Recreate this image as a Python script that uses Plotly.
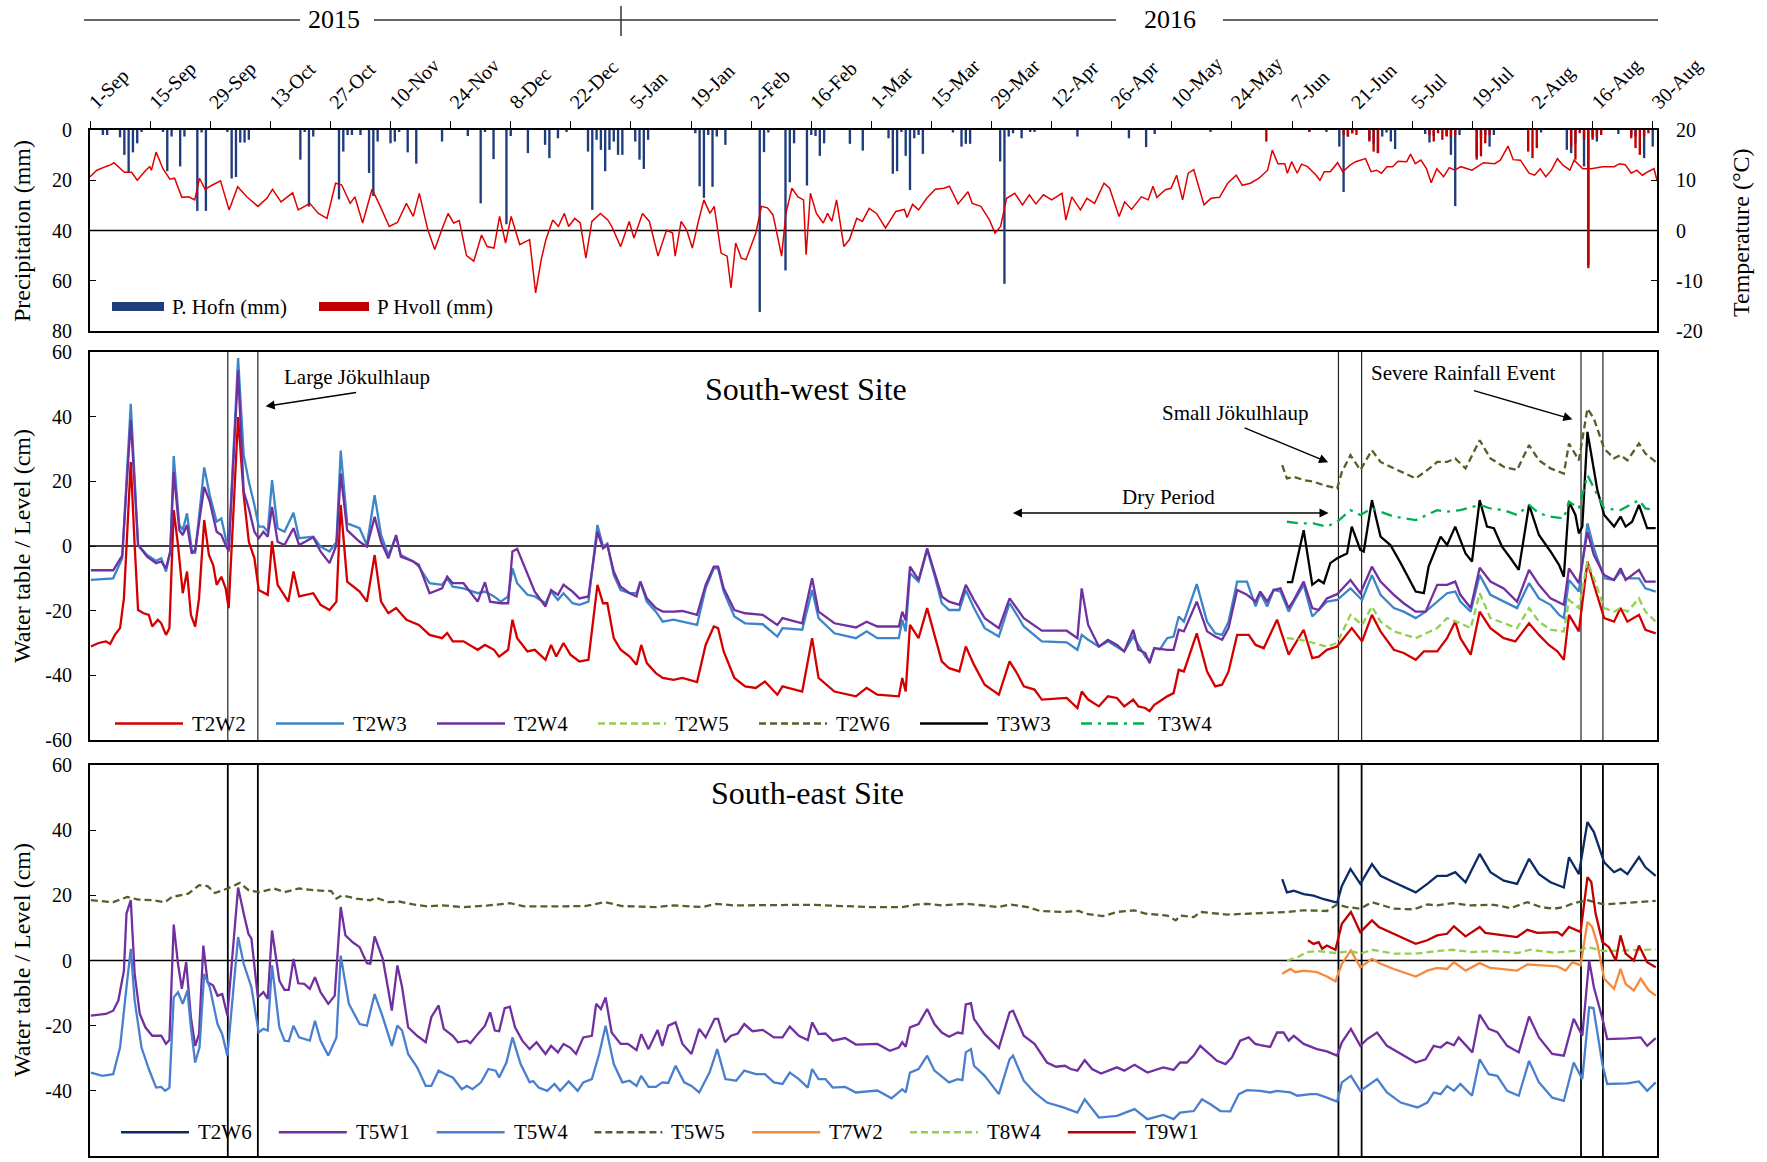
import numpy as np
import pandas as pd
import plotly.graph_objects as go

# ---------------------------------------------------------------------------
# Observation period: day 0 = 1 September 2015
# ---------------------------------------------------------------------------
START = pd.Timestamp("2015-09-01")

# Daily precipitation (mm) at Hofn and Hvoll
hofn_day = [3, 4, 7, 8, 9, 10, 11, 12, 17, 18,
            19, 21, 22, 25, 26, 27, 32, 33, 34, 35,
            36, 37, 49, 50, 51, 52, 58, 59, 60, 61,
            63, 65, 66, 67, 70, 71, 72, 74, 76, 82,
            88, 91, 92, 94, 97, 98, 102, 106, 107, 109,
            111, 116, 117, 118, 119, 120, 121, 122, 123, 124,
            127, 128, 129, 130, 141, 142, 143, 144, 145, 146,
            148, 156, 157, 158, 162, 163, 164, 167, 168, 169,
            170, 171, 177, 180, 186, 187, 188, 189, 190, 191,
            192, 193, 194, 201, 203, 204, 205, 212, 213, 214,
            215, 217, 219, 220, 230, 242, 246, 248, 261, 284,
            288, 291, 292, 293, 294, 298, 299, 300, 301, 302,
            303, 304, 311, 312, 313, 316, 317, 318, 319, 323,
            324, 325, 326, 327, 338, 344, 345, 346, 348, 349,
            350, 351, 356, 359, 360, 362, 364]
hofn_mm = [2, 2, 2.9, 9.9, 17.1, 8.9, 5.3, 0.7, 0.7, 16.4,
           2.6, 14.5, 2.6, 32.2, 1, 32.2, 0.7, 19.3, 18.7, 5,
           5, 3.9, 11.8, 0.7, 30.5, 2.6, 27.6, 8.6, 2, 2,
           2, 17.1, 26.3, 4.6, 5.3, 4.6, 0.7, 8.9, 13.4, 4.6,
           2.4, 29.2, 0.7, 11.6, 37.5, 2.4, 9.2, 5.9, 11.2, 3.3,
           0.7, 8.6, 31.8, 3.9, 7.9, 16.4, 7.9, 4.6, 9.9, 9.9,
           4.6, 11.8, 15.5, 3.9, 1.3, 22.4, 27, 2, 22.6, 2.6,
           5.9, 72.4, 8.8, 1, 55.9, 20.8, 5.3, 22.1, 2, 2.4,
           10.3, 5.3, 5.5, 8.2, 3.3, 17.4, 16.4, 0.7, 10.3, 23.9,
           3.3, 2, 9.5, 1, 6.6, 5.5, 5.5, 12.5, 61.2, 2.6,
           1.3, 3.3, 0.7, 0.7, 2.6, 3.3, 6.8, 1.6, 0.7, 0.7,
           0.7, 6.6, 24.7, 2.6, 1.3, 3.9, 5.5, 9.2, 2.6, 1,
           4.6, 7.6, 1.6, 5, 2.4, 2.4, 9.9, 30.3, 2, 10.8,
           3.3, 2, 6.6, 2, 1, 7.9, 9.2, 5.3, 14.5, 53.9,
           2.9, 4.6, 1.6, 2, 2.6, 11.2, 6.6]

hvoll_day = [274, 284, 292, 293, 294, 295, 298, 299, 300, 312,
             313, 314, 315, 316, 317, 318, 323, 324, 325, 326,
             335, 336, 337, 345, 346, 347, 348, 349, 350, 351,
             352, 359, 360, 361, 362, 363]
hvoll_mm = [4.6, 0.7, 2, 2.6, 1.3, 2, 4.6, 8.6, 9.2, 2,
            4.6, 1.3, 3.9, 2.6, 2.9, 2, 11.8, 10.5, 5.3, 2,
            8.6, 11.2, 7.2, 6.6, 11.8, 1.3, 3.9, 55, 3.9, 2.6,
            2, 3.3, 7.2, 9.9, 2.6, 1.3]

# Daily mean air temperature (deg C)
temp_day = [0, 1.6, 3.6, 4.9, 5.6, 7, 8, 9.7, 11, 13,
            13.9, 14.3, 15.4, 17, 18.6, 19.7, 21.4, 23, 24.4, 25.5,
            26.8, 28.4, 30.4, 32.4, 34.4, 36.5, 39.1, 41.2, 42.5, 44.5,
            47.2, 48.5, 51.2, 53.2, 55.2, 57.2, 58.6, 60.6, 61.7, 63.5,
            65.7, 67.3, 69.7, 71.6, 73.7, 75.3, 76.7, 78.7, 80.3, 82,
            83.4, 84.7, 86, 87.7, 89.4, 91.2, 92.5, 94.1, 95.4, 96.8,
            98.1, 100.1, 102.4, 103.8, 105.1, 106.2, 107.8, 109.1, 110.5, 111.5,
            112.9, 114.2, 115.5, 116.9, 118.9, 120.6, 121.6, 123.6, 125.6, 126.7,
            128.7, 130.3, 132.3, 134.3, 135.7, 136.3, 137.7, 139, 140.3, 141.7,
            143, 144.4, 145.4, 147, 148.4, 149.3, 150.4, 151.7, 152.8, 153.8,
            155.1, 156.4, 157.8, 159.1, 161.1, 162.1, 163.5, 164.9, 166.2, 166.8,
            167.8, 169.2, 170.8, 171.8, 172.8, 173.9, 174.5, 175.6, 176.9, 178.6,
            179.9, 181.5, 183.2, 185.3, 187.7, 189.7, 190.3, 191.6, 193, 194.9,
            196.9, 198.9, 200.2, 202.2, 204.5, 205.5, 207.5, 209.5, 210.8, 212.1,
            213.5, 215.4, 217.2, 218.8, 220.3, 222.1, 224, 226.4, 227.3, 228.7,
            230.7, 232.2, 234, 236.2, 237.5, 239.7, 241, 242.6, 244.9, 246.5,
            247.6, 248.5, 250.5, 251.8, 253.1, 254.5, 255.8, 257.1, 259.5, 261.1,
            263.1, 265, 267, 268.4, 270.3, 272.3, 274.3, 275.4, 276.7, 278.3,
            278.9, 279.9, 281.2, 282.2, 283.6, 285.6, 286.5, 287.5, 288.9, 290.6,
            291.8, 293.5, 294.8, 297.1, 298.4, 299.7, 300.8, 302.1, 303.4, 304.7,
            306.7, 307.6, 308.7, 310, 311.3, 312.4, 313.7, 315.3, 316.6, 317.9,
            319.3, 321.9, 324.6, 327.2, 328.5, 330.3, 331.5, 333.2, 335.2, 336.5,
            337.8, 339.1, 340.4, 341.8, 343.1, 344.7, 345.7, 347.7, 349.7, 352.3,
            355, 356.3, 357.6, 359, 360.3, 361.6, 362.9, 364.3, 365]
temp_c = [10.7, 12, 12.7, 13.1, 13.5, 12.5, 11.6, 11.6, 10, 12,
          12.7, 12, 15.6, 12.3, 10.2, 10.4, 6.6, 6.7, 6.1, 10.4,
          8.2, 9, 9.9, 4.1, 8.7, 6.7, 4.8, 6.4, 8.2, 5.7,
          7.5, 4.1, 5.4, 3.4, 2.4, 9.4, 9.1, 5.4, 6.7, 1.5,
          8.2, 5.4, 0.8, 1.6, 5.4, 2.8, 7.4, 0.1, -3.8, 0.3,
          3.4, 1.5, 2, -5, -6.1, -0.9, -3.2, -3.5, 2.8, -2.5,
          2.8, -2.8, -1.8, -12.4, -5.8, -1.8, 2.1, 0.8, 3.4, 0.8,
          2.4, 1.5, -5.5, 1.8, 3.4, 2.1, 0.7, -3.2, 1.8, -1.5,
          3.4, 1.8, -5.1, 0.1, -0.5, -5.1, 1.8, 0.1, -3.5, 1.8,
          6.1, 3.4, 4.8, -4.5, -5.1, -11.4, -2.5, -5.5, -5.8, -3.5,
          -0.5, 4.8, 4.5, 3.1, -5.1, 3.4, 8.4, 6.7, 6.1, -4.8,
          7.4, 3.4, 1.5, 3.4, 1.8, 6.1, 2.8, -3.2, -1.8, 2.4,
          1.8, 4.4, 3.4, 0.5, 3.8, 4.2, 2.6, 5.2, 4.1, 6.4,
          8.2, 8.4, 8.8, 5.3, 7.7, 5.4, 4.8, 2.1, -0.5, 0.8,
          6.4, 7.4, 5.1, 7.1, 5.3, 7.1, 6.1, 7.4, 2.1, 6.7,
          4.1, 6.4, 5.4, 9.4, 8.4, 2.8, 5.7, 4.2, 6.7, 6.1,
          8.8, 6.6, 8.1, 8.4, 11, 6.1, 11.4, 12.1, 5.1, 6.4,
          6.6, 9.4, 11, 9, 9.4, 10.4, 12, 16, 13.3, 13.3,
          11.4, 13.7, 11.4, 13.2, 12.7, 11, 10, 11.7, 11.7, 13.5,
          11.7, 13, 13.7, 14.3, 11.7, 12, 11.4, 12.7, 12.7, 13.8,
          13.7, 15.2, 13.3, 14, 12.3, 9.5, 12.3, 10.7, 12.5, 12,
          12.7, 12, 13.5, 13.3, 14, 16.8, 14.1, 14, 11.4, 11,
          12.3, 10.7, 12, 14.3, 13, 12, 14, 12.3, 12.3, 12.7,
          12.7, 13.3, 13.1, 11.4, 12, 11, 11.7, 12.3, 10]

# ---------------------------------------------------------------------------
# Water table levels (cm), south-west site
# ---------------------------------------------------------------------------
t2w2_day = [0.2, 2.0, 3.7, 4.7, 5.8, 7.0, 7.9, 9.5, 10.4, 11.2,
            12.5, 13.7, 14.5, 15.8, 16.6, 17.7, 18.5, 19.5, 20.5, 21.6,
            22.6, 23.5, 24.5, 25.4, 26.6, 27.7, 28.7, 29.5, 30.6, 31.6,
            32.3, 34.5, 35.8, 37.0, 38.3, 39.3, 41.4, 42.4, 43.7, 45.3,
            46.2, 47.4, 48.7, 52.0, 53.7, 55.8, 57.4, 58.4, 59.9, 62.8,
            64.5, 66.3, 67.8, 69.5, 71.3, 73.7, 76.6, 79.1, 82.0, 83.2,
            84.5, 87.0, 90.3, 92.0, 94.1, 95.3, 97.4, 98.4, 99.5, 101.9,
            103.6, 106.1, 107.4, 108.6, 110.3, 111.9, 114.0, 116.1, 118.2, 119.5,
            120.5, 122.0, 123.6, 125.7, 127.3, 128.4, 129.7, 131.8, 133.4, 135.9,
            138.0, 141.4, 143.4, 145.3, 146.3, 147.6, 150.1, 152.6, 155.1, 157.2,
            160.1, 161.3, 165.9, 168.2, 169.7, 173.4, 178.4, 180.9, 183.4, 188.4,
            189.2, 190.0, 191.0, 193.0, 195.0, 196.7, 198.4, 200.1, 202.5, 204.0,
            205.9, 208.4, 211.7, 214.2, 215.9, 217.5, 220.0, 221.7, 227.5, 230.0,
            231.0, 232.5, 235.0, 237.1, 239.2, 240.9, 243.0, 244.2, 245.8, 246.8,
            247.9, 249.2, 250.9, 252.4, 253.6, 254.8, 257.8, 260.2, 262.1, 263.7,
            265.2, 267.2, 269.9, 271.5, 273.4, 276.5, 279.2, 282.7, 284.7, 286.2,
            288.1, 290.5, 293.9, 296.3, 298.6, 300.6, 303.7, 306.0, 308.8, 310.7,
            313.8, 316.1, 318.0, 319.2, 321.6, 323.7, 326.2, 329.3, 332.0, 335.2,
            337.5, 339.8, 341.8, 343.3, 344.5, 346.8, 348.8, 350.3, 352.7, 355.0,
            356.5, 358.1, 360.8, 362.3, 364.7]
t2w2_cm = [-31.1, -30.0, -29.5, -30.3, -27.5, -25.4, -16.2, 26.0, 0.3, -19.8,
           -20.8, -21.3, -24.9, -22.8, -23.9, -27.5, -25.4, 11.1, 0.3, -14.6,
           -7.9, -21.3, -24.9, -16.2, 8.0, -2.8, -5.9, -12.0, -9.5, -13.1,
           -19.2, 39.9, 15.7, 1.3, -3.8, -13.6, -15.1, 1.5, -12.0, -15.1,
           -17.2, -7.9, -15.6, -14.6, -18.2, -19.8, -17.2, 12.7, -11.0, -14.1,
           -17.2, -2.8, -17.2, -20.8, -19.2, -22.8, -24.4, -27.5, -28.5, -26.9,
           -29.5, -29.5, -32.1, -30.6, -32.1, -34.2, -32.1, -22.8, -28.5, -32.6,
           -32.1, -35.2, -30.6, -34.2, -30.0, -33.6, -35.7, -35.2, -12.0, -17.7,
           -17.7, -28.5, -32.1, -34.2, -36.7, -30.6, -36.2, -39.3, -40.8, -41.4,
           -40.8, -42.1, -30.6, -24.9, -25.4, -32.6, -40.8, -43.4, -43.9, -41.9,
           -46.0, -43.4, -45.0, -28.5, -40.8, -45.0, -46.5, -43.9, -46.0, -46.5,
           -40.8, -45.0, -24.4, -28.5, -19.2, -27.5, -35.7, -37.8, -38.8, -31.1,
           -36.7, -42.9, -46.0, -35.7, -39.3, -43.4, -44.4, -47.5, -47.0, -50.1,
           -45.0, -47.5, -49.6, -46.5, -47.0, -49.6, -47.5, -49.6, -50.1, -51.1,
           -49.1, -48.0, -46.5, -45.5, -38.3, -38.8, -27.0, -38.8, -43.4, -42.9,
           -38.8, -27.5, -27.5, -30.6, -31.6, -22.8, -33.6, -25.9, -34.7, -34.2,
           -32.1, -31.1, -25.4, -29.5, -21.3, -26.4, -32.1, -33.1, -35.2, -32.6,
           -32.6, -28.5, -23.4, -28.5, -33.6, -20.3, -25.4, -28.5, -29.5, -23.9,
           -27.5, -30.6, -32.6, -35.2, -21.3, -26.4, -4.8, -12.0, -22.3, -23.4,
           -19.2, -23.4, -21.3, -25.9, -27.0]

t2w3_day = [0.2, 5.4, 7.5, 9.5, 11.2, 13.3, 15.4, 16.6, 17.7, 18.7,
            19.5, 20.8, 21.6, 22.6, 23.7, 24.5, 26.6, 27.9, 29.5, 30.6,
            31.6, 32.3, 34.5, 35.8, 37.0, 38.3, 39.3, 40.4, 41.4, 42.4,
            43.7, 45.3, 47.4, 48.7, 52.0, 53.7, 55.8, 57.4, 58.4, 59.9,
            62.8, 64.5, 66.3, 67.8, 69.5, 71.3, 72.4, 75.3, 76.6, 79.1,
            82.0, 83.2, 84.5, 87.0, 90.3, 92.0, 94.1, 95.7, 97.4, 98.4,
            99.5, 101.9, 103.6, 106.1, 107.4, 109.0, 110.3, 112.4, 114.0, 116.1,
            118.2, 119.5, 120.5, 122.0, 123.6, 125.7, 127.3, 128.2, 129.7, 131.8,
            133.4, 135.9, 141.4, 143.4, 145.3, 146.3, 147.6, 150.1, 152.6, 156.7,
            160.1, 161.3, 165.9, 168.2, 169.7, 173.4, 178.4, 180.9, 183.4, 188.4,
            189.2, 190.0, 191.0, 193.0, 195.0, 196.7, 198.4, 200.1, 202.5, 204.0,
            205.9, 208.4, 211.7, 214.2, 215.9, 217.5, 221.7, 227.5, 230.0, 231.0,
            232.5, 235.0, 237.1, 239.2, 240.9, 243.0, 244.2, 245.8, 246.8, 247.9,
            249.2, 250.9, 252.4, 253.6, 254.8, 257.8, 260.2, 262.1, 263.7, 265.2,
            267.2, 269.5, 271.5, 272.6, 274.2, 275.7, 277.3, 279.2, 280.4, 282.7,
            284.7, 286.2, 288.1, 290.5, 293.6, 296.3, 298.6, 300.6, 303.7, 306.0,
            308.8, 311.1, 313.8, 316.1, 318.0, 319.2, 321.6, 323.7, 326.2, 329.3,
            332.4, 335.2, 337.5, 340.2, 342.2, 343.3, 344.5, 346.8, 348.8, 350.3,
            352.7, 355.0, 356.5, 357.7, 360.8, 362.3, 364.7]
t2w3_cm = [-10.5, -10.0, -3.8, 44.0, 0.3, -2.8, -4.6, -3.8, -7.9, -1.7,
           27.8, 6.5, 4.9, 10.1, -1.2, -2.3, 24.3, 15.7, 7.5, 8.5,
           2.4, -0.9, 58.1, 28.1, 19.9, 12.7, 6.0, 6.0, 4.4, 20.4,
           5.5, 4.4, 10.3, 2.4, 2.9, -0.2, -1.7, 1.3, 29.5, 7.0,
           5.5, 0.3, 15.7, 3.4, -2.8, 2.9, -2.8, -4.8, -6.4, -11.5,
           -12.0, -10.0, -12.6, -13.1, -14.6, -14.1, -15.6, -17.2, -15.6, -6.9,
           -11.5, -15.1, -15.6, -17.7, -14.1, -16.7, -14.6, -17.7, -18.2, -17.2,
           6.5, -0.2, 0.8, -9.0, -13.6, -14.6, -14.6, -11.0, -17.2, -20.3,
           -23.4, -22.8, -24.4, -13.1, -6.9, -6.9, -14.1, -21.8, -23.9, -24.2,
           -28.0, -25.4, -25.9, -13.6, -22.3, -27.0, -28.5, -26.4, -28.5, -28.5,
           -22.8, -26.4, -8.4, -11.0, -1.2, -9.0, -17.7, -19.8, -19.8, -13.6,
           -19.2, -25.4, -28.0, -17.7, -21.3, -24.9, -29.5, -29.8, -32.1, -27.5,
           -29.0, -31.1, -29.5, -31.1, -32.6, -28.0, -30.6, -34.2, -35.7, -31.6,
           -32.0, -28.5, -28.0, -21.8, -23.4, -11.8, -23.4, -27.0, -27.5, -23.4,
           -11.0, -11.0, -18.7, -14.6, -18.7, -13.6, -14.1, -20.3, -17.2, -12.0,
           -21.8, -19.8, -17.2, -16.7, -13.1, -16.7, -9.0, -15.1, -19.2, -20.3,
           -22.3, -20.3, -17.2, -14.6, -14.1, -17.2, -20.3, -9.0, -15.1, -17.2,
           -19.2, -11.5, -16.2, -18.2, -21.3, -22.3, -10.5, -14.1, 7.0, -0.7,
           -10.0, -10.5, -7.9, -10.0, -10.0, -13.1, -14.1]

t2w4_day = [0.2, 5.4, 7.5, 9.5, 11.2, 13.3, 15.4, 16.6, 17.7, 18.7,
            19.5, 20.8, 21.6, 22.6, 23.7, 24.5, 26.6, 27.9, 29.5, 30.6,
            31.6, 32.3, 34.5, 35.8, 37.0, 38.3, 39.3, 40.4, 41.4, 42.4,
            43.7, 45.3, 47.4, 48.7, 52.0, 53.7, 55.8, 57.4, 58.4, 59.9,
            62.8, 64.5, 66.3, 67.8, 69.5, 71.3, 72.4, 75.3, 76.6, 79.1,
            82.0, 83.2, 84.5, 87.0, 90.3, 92.0, 93.2, 95.7, 97.4, 98.4,
            99.5, 101.1, 103.6, 106.1, 107.4, 109.0, 110.3, 112.4, 114.0, 116.1,
            118.2, 119.5, 120.5, 122.0, 123.6, 125.7, 127.3, 128.2, 129.7, 131.8,
            133.4, 135.9, 138.0, 141.4, 143.4, 145.3, 146.3, 147.6, 150.1, 152.6,
            156.7, 160.1, 161.3, 165.9, 168.2, 169.7, 173.4, 178.4, 180.9, 183.4,
            188.4, 189.2, 190.0, 191.0, 193.0, 195.0, 196.7, 198.4, 200.1, 202.5,
            204.0, 205.9, 208.4, 211.7, 214.2, 215.9, 217.5, 221.7, 227.5, 230.0,
            231.0, 232.5, 235.0, 237.1, 239.2, 240.9, 243.0, 244.2, 245.8, 246.8,
            247.9, 249.2, 250.9, 252.4, 253.6, 254.8, 257.8, 260.2, 262.1, 263.7,
            265.2, 267.2, 269.5, 271.5, 272.6, 274.2, 275.7, 277.3, 279.2, 280.4,
            282.7, 284.7, 286.2, 288.1, 290.5, 293.6, 295.9, 298.6, 300.6, 303.7,
            306.0, 308.8, 311.1, 313.8, 316.1, 318.0, 319.2, 321.6, 323.7, 326.2,
            329.3, 332.4, 335.2, 337.5, 340.2, 343.3, 344.5, 346.8, 348.8, 350.3,
            352.7, 355.0, 356.5, 357.7, 360.8, 362.3, 364.7]
t2w4_cm = [-7.5, -7.5, -3.0, 38.9, 0.3, -3.3, -5.3, -4.8, -6.9, -1.7,
           22.9, 4.9, 3.4, 6.5, -2.3, -1.2, 18.3, 13.7, 4.4, 3.4,
           0.3, -1.7, 54.3, 16.8, 11.6, 4.4, 2.4, 4.4, 2.9, 12.1,
           1.3, 0.3, 5.5, 0.3, 2.7, -1.7, -5.3, 0.3, 22.4, 4.9,
           1.3, -0.2, 9.0, 1.3, -3.8, 3.4, -3.3, -4.8, -5.8, -14.6,
           -13.1, -9.5, -11.5, -11.5, -17.2, -11.2, -17.2, -17.7, -17.7, -1.7,
           -0.9, -5.9, -14.1, -18.7, -13.6, -15.1, -12.0, -14.1, -16.2, -15.6,
           4.4, -0.7, 0.3, -7.9, -12.6, -14.6, -15.6, -11.0, -16.2, -19.2,
           -20.3, -20.3, -20.1, -21.3, -12.0, -6.4, -6.4, -13.1, -19.8, -20.8,
           -21.3, -24.4, -22.3, -23.9, -10.0, -20.3, -23.9, -25.2, -23.4, -24.9,
           -24.9, -20.3, -23.0, -6.4, -10.5, -0.7, -7.9, -15.6, -17.2, -18.2,
           -12.0, -16.7, -22.3, -25.4, -16.2, -19.2, -22.3, -26.2, -26.2, -28.5,
           -13.1, -24.4, -31.1, -29.0, -30.6, -32.6, -25.9, -32.1, -33.1, -36.2,
           -31.6, -31.8, -32.1, -32.1, -25.9, -26.4, -17.2, -26.4, -28.0, -29.0,
           -25.4, -13.6, -15.1, -17.2, -14.1, -17.2, -13.6, -13.1, -19.2, -16.7,
           -11.0, -19.2, -19.8, -16.2, -14.9, -10.5, -14.6, -6.4, -11.0, -15.1,
           -17.7, -20.3, -20.3, -12.0, -12.0, -11.0, -15.1, -19.2, -6.7, -11.0,
           -13.1, -17.2, -7.4, -12.0, -16.2, -18.2, -6.9, -11.5, 4.4, -2.8,
           -9.0, -10.5, -6.9, -10.5, -7.4, -11.0, -11.0]

t2w5_day = [278.8, 282.0, 285.0, 288.1, 290.5, 293.6, 296.3, 298.6, 300.6, 303.7,
            308.8, 313.8, 316.1, 319.2, 321.6, 323.7, 326.2, 329.3, 332.4, 335.2,
            337.5, 340.2, 343.3, 344.5, 346.8, 348.8, 350.3, 352.7, 355.0, 356.5,
            358.1, 360.8, 362.3, 364.7]
t2w5_cm = [-28.5, -29.0, -30.0, -31.1, -30.0, -21.3, -24.4, -18.7, -23.4, -26.4,
           -28.5, -25.4, -22.3, -23.9, -25.4, -14.6, -22.3, -23.9, -25.4, -19.2,
           -23.4, -25.9, -26.4, -16.7, -19.2, -4.8, -10.0, -19.2, -20.3, -19.2,
           -20.3, -16.2, -20.3, -23.4]

t2w6_day = [277.7, 278.8, 280.4, 282.7, 285.0, 287.4, 290.5, 291.6, 293.6, 295.9,
            298.6, 300.6, 303.7, 308.8, 311.5, 313.8, 316.1, 318.0, 320.4, 323.7,
            326.2, 329.3, 332.4, 335.2, 337.5, 340.2, 343.3, 344.5, 346.8, 348.8,
            350.3, 352.7, 355.0, 356.5, 358.1, 360.8, 362.3, 364.7]
t2w6_cm = [25.0, 20.9, 21.4, 20.4, 19.9, 18.8, 17.8, 22.9, 28.1, 23.5,
           29.6, 26.0, 24.0, 20.9, 23.5, 26.0, 26.0, 27.1, 24.0, 32.7,
           27.1, 24.5, 23.5, 31.2, 26.5, 24.0, 22.4, 31.7, 26.5, 42.5,
           39.4, 30.1, 27.1, 28.1, 26.5, 31.7, 28.6, 26.0]

t3w3_day = [278.8, 280.0, 282.7, 284.7, 286.2, 287.4, 288.9, 290.5, 292.8, 293.9,
            295.9, 296.7, 298.6, 300.6, 302.9, 305.3, 308.8, 310.7, 311.8, 314.6,
            316.1, 318.0, 320.4, 321.9, 323.7, 325.4, 327.0, 328.9, 330.9, 332.8,
            335.2, 337.5, 340.2, 342.2, 343.3, 344.5, 346.0, 346.8, 347.6, 348.8,
            351.1, 352.7, 355.0, 356.5, 357.7, 359.2, 360.8, 362.7, 364.7]
t3w3_cm = [-11.2, -11.2, 4.9, -12.0, -10.5, -11.5, -5.3, -3.8, -2.3, 6.0,
           -1.2, -1.7, 14.2, 2.9, 0.3, -5.3, -14.1, -14.6, -6.4, 2.9,
           0.3, 6.0, -2.3, -4.8, 14.2, 6.0, 5.5, -0.2, -3.8, -7.4,
           12.7, 3.4, -1.7, -5.9, -9.5, 13.7, 9.6, 3.9, 6.0, 35.3,
           17.3, 9.6, 6.0, 9.1, 6.0, 7.5, 12.7, 5.5, 5.5]

t3w4_day = [278.8, 282.0, 285.0, 288.1, 290.5, 293.6, 295.9, 298.6, 300.6, 303.7,
            308.8, 311.5, 313.8, 316.1, 319.2, 323.7, 326.2, 329.3, 332.4, 335.2,
            337.5, 340.2, 343.3, 344.5, 346.8, 348.8, 350.3, 352.7, 356.5, 360.8,
            362.3, 364.7]
t3w4_cm = [7.5, 7.0, 7.0, 6.0, 7.5, 11.1, 9.6, 11.6, 10.6, 9.1,
           8.0, 9.6, 11.1, 10.6, 11.1, 12.7, 11.6, 11.1, 9.6, 12.7,
           10.1, 9.1, 8.5, 13.7, 11.6, 21.9, 17.8, 11.6, 11.1, 14.2,
           11.6, 11.1]

# ---------------------------------------------------------------------------
# Water table levels (cm), south-east site
# ---------------------------------------------------------------------------
t5w1_day = [0.2, 3.7, 5.4, 6.6, 7.9, 8.5, 9.5, 10.4, 11.6, 12.9,
            14.5, 16.6, 17.7, 18.5, 19.5, 20.5, 21.4, 22.4, 23.5, 24.5,
            25.4, 26.4, 27.4, 28.7, 29.7, 30.8, 32.0, 34.5, 35.8, 36.9,
            37.6, 39.1, 40.4, 41.4, 42.4, 44.1, 45.3, 46.3, 47.4, 48.5,
            49.9, 51.2, 52.4, 53.7, 55.5, 57.0, 58.4, 59.5, 61.2, 62.8,
            64.5, 65.3, 66.3, 68.2, 69.5, 70.3, 71.6, 72.7, 74.1, 76.2,
            78.2, 79.5, 81.2, 82.4, 84.5, 85.7, 87.8, 88.6, 90.3, 92.0,
            93.2, 94.3, 95.3, 96.6, 97.8, 99.0, 100.7, 102.4, 104.0, 106.1,
            107.4, 109.0, 110.3, 111.9, 113.2, 114.9, 116.9, 117.9, 119.0, 120.1,
            121.5, 123.6, 125.3, 127.3, 128.4, 130.1, 132.2, 133.3, 134.7, 136.4,
            138.0, 140.1, 141.9, 143.4, 145.5, 146.3, 147.9, 149.3, 150.9, 152.4,
            154.3, 156.7, 159.3, 161.3, 163.0, 165.1, 167.2, 168.2, 169.7, 171.3,
            173.0, 175.9, 178.4, 183.4, 186.3, 188.4, 189.2, 190.0, 191.0, 193.0,
            195.0, 196.7, 198.4, 200.1, 202.1, 203.2, 204.0, 205.2, 205.9, 208.4,
            211.7, 214.2, 215.0, 217.5, 220.0, 222.9, 225.0, 227.1, 228.4, 230.0,
            231.7, 233.4, 235.5, 239.2, 240.9, 243.3, 246.3, 250.0, 252.4, 253.9,
            255.5, 257.1, 258.6, 260.2, 262.5, 264.5, 266.0, 267.9, 269.9, 271.4,
            272.6, 274.9, 276.5, 278.0, 279.2, 280.4, 282.7, 285.8, 288.1, 290.5,
            291.6, 293.7, 295.9, 297.5, 299.8, 302.1, 305.3, 308.8, 311.1, 313.0,
            314.6, 316.1, 317.7, 318.8, 322.0, 323.7, 325.8, 327.8, 330.1, 332.8,
            335.2, 337.5, 340.6, 343.3, 345.6, 347.6, 349.2, 350.3, 352.3, 353.4,
            358.1, 361.2, 362.7, 364.7]
t5w1_cm = [-16.9, -16.4, -15.4, -12.3, -3.1, 14.4, 18.5, -4.1, -16.4, -20.5,
           -23.1, -23.1, -25.6, -24.4, 11.0, -1.0, -8.7, -0.5, -17.4, -26.2,
           -22.6, 4.6, -6.7, -7.7, -10.8, -10.3, -16.9, 22.4, 14.4, 8.2,
           6.7, -11.3, -9.7, -11.8, 9.2, -6.2, -9.0, -9.0, 0.5, -7.0,
           -7.2, -8.7, -5.1, -9.7, -13.3, -10.8, 16.4, 7.7, 5.6, 4.1,
           -0.8, -1.0, 7.4, 0.5, -9.2, -15.4, -1.5, -8.2, -20.5, -23.1,
           -25.1, -17.4, -13.8, -21.0, -23.1, -25.1, -24.6, -25.4, -22.6, -20.0,
           -15.9, -21.5, -21.7, -14.6, -14.2, -20.5, -24.6, -27.2, -25.1, -28.7,
           -26.2, -28.2, -25.6, -26.8, -28.7, -23.6, -23.1, -13.3, -14.9, -11.3,
           -22.1, -25.6, -25.6, -27.5, -22.6, -27.2, -21.3, -26.2, -20.0, -19.0,
           -25.6, -28.7, -21.0, -23.6, -17.9, -17.9, -25.1, -23.1, -22.4, -19.5,
           -21.7, -21.3, -23.6, -23.6, -20.3, -23.1, -24.4, -19.0, -22.6, -22.4,
           -24.6, -23.8, -25.8, -25.6, -27.7, -26.7, -25.1, -26.5, -20.5, -19.5,
           -14.9, -19.5, -22.1, -23.4, -22.1, -22.4, -13.5, -13.1, -17.9, -22.6,
           -26.9, -15.9, -15.4, -23.1, -25.6, -31.3, -32.6, -32.3, -33.3, -33.8,
           -30.6, -33.3, -34.7, -32.8, -33.8, -32.0, -34.4, -32.8, -33.6, -31.3,
           -31.3, -29.2, -26.2, -28.2, -30.8, -31.8, -29.7, -24.6, -23.6, -25.6,
           -26.0, -26.5, -22.1, -22.1, -24.6, -23.1, -25.6, -27.2, -27.9, -29.2,
           -25.1, -21.0, -26.2, -24.1, -22.1, -26.2, -28.7, -31.3, -30.3, -26.2,
           -26.7, -25.1, -26.0, -23.6, -28.2, -16.6, -21.0, -22.0, -26.2, -28.2,
           -17.2, -23.6, -28.7, -29.2, -17.9, -23.1, 0.0, -8.2, -17.9, -24.1,
           -23.9, -23.6, -26.2, -23.8]

t5w4_day = [0.2, 2.9, 5.4, 7.0, 8.5, 9.5, 10.4, 12.0, 13.7, 15.4,
            16.6, 17.5, 18.5, 19.5, 20.5, 21.6, 22.7, 23.5, 24.5, 25.5,
            26.6, 27.9, 29.7, 30.8, 32.0, 34.5, 35.8, 36.9, 37.6, 39.3,
            40.4, 41.4, 42.4, 44.1, 45.3, 46.3, 47.4, 48.7, 51.2, 52.4,
            53.7, 55.5, 57.4, 58.4, 60.3, 62.8, 64.5, 66.3, 68.2, 70.3,
            71.6, 72.7, 74.1, 76.2, 78.2, 79.5, 81.2, 82.8, 84.5, 86.6,
            87.8, 89.1, 91.1, 92.8, 94.5, 95.3, 97.0, 98.4, 100.3, 102.4,
            103.2, 104.5, 106.5, 108.2, 109.5, 111.5, 113.6, 114.9, 116.9, 118.6,
            120.1, 122.0, 124.0, 125.7, 127.3, 128.4, 130.1, 131.8, 133.3, 134.7,
            136.4, 138.4, 140.1, 141.9, 144.3, 146.1, 148.0, 150.5, 152.4, 155.1,
            157.2, 159.3, 161.3, 163.0, 165.1, 167.2, 168.2, 169.7, 171.3, 173.0,
            175.9, 178.4, 183.4, 186.7, 189.2, 190.0, 191.0, 193.0, 195.0, 196.7,
            200.1, 202.1, 203.2, 204.0, 205.2, 205.9, 208.4, 211.7, 214.2, 215.0,
            217.5, 220.0, 222.9, 226.7, 230.0, 231.7, 235.0, 239.2, 243.3, 246.3,
            250.0, 252.4, 253.9, 257.1, 259.0, 261.0, 263.3, 265.6, 267.6, 269.5,
            272.6, 274.9, 276.5, 279.6, 281.2, 284.3, 285.8, 288.1, 290.5, 291.6,
            293.7, 295.9, 299.8, 302.1, 305.3, 309.2, 311.5, 313.0, 314.6, 316.1,
            317.7, 319.2, 321.9, 323.7, 325.8, 327.8, 330.1, 332.8, 335.2, 337.5,
            340.6, 343.3, 345.6, 347.6, 349.2, 350.2, 352.3, 353.4, 358.1, 360.8,
            362.7, 364.7]
t5w4_cm = [-34.4, -35.4, -34.9, -26.7, -8.2, 3.6, -12.3, -26.7, -33.3, -39.0,
           -38.8, -40.0, -39.0, -11.3, -9.7, -13.3, -9.2, -20.5, -31.3, -26.7,
           -4.1, -8.2, -19.5, -22.6, -29.2, 7.2, -1.0, -5.6, -8.2, -22.1,
           -21.0, -21.5, -1.5, -20.5, -24.6, -24.8, -20.0, -23.6, -24.6, -18.5,
           -24.6, -29.2, -23.6, 1.5, -13.3, -19.5, -20.0, -10.3, -17.4, -26.2,
           -20.0, -21.5, -28.7, -32.8, -38.5, -38.5, -33.8, -34.9, -35.9, -39.5,
           -38.5, -39.5, -37.4, -33.3, -33.8, -35.9, -31.3, -23.6, -31.8, -37.4,
           -37.0, -39.0, -40.0, -37.9, -40.0, -37.1, -40.0, -37.4, -36.4, -28.7,
           -20.0, -31.8, -37.4, -36.9, -38.5, -35.4, -38.8, -38.8, -37.4, -37.6,
           -32.3, -37.4, -38.5, -40.5, -34.4, -27.2, -36.4, -36.9, -33.8, -34.9,
           -34.9, -37.4, -37.9, -34.4, -36.4, -39.0, -33.3, -36.4, -36.4, -39.0,
           -38.8, -40.5, -39.9, -42.3, -39.5, -40.5, -34.4, -33.3, -29.2, -33.8,
           -37.4, -36.4, -36.7, -28.2, -27.2, -32.3, -35.4, -41.0, -30.3, -29.2,
           -36.9, -40.5, -43.6, -45.1, -46.7, -42.6, -48.2, -47.7, -45.6, -48.7,
           -47.4, -48.7, -46.7, -46.2, -42.6, -44.1, -46.2, -46.3, -41.0, -39.8,
           -40.0, -40.5, -40.0, -40.5, -41.5, -41.0, -41.0, -42.1, -43.3, -37.4,
           -35.4, -40.0, -36.4, -40.5, -43.6, -45.1, -43.6, -40.5, -41.0, -38.5,
           -40.0, -37.9, -41.5, -30.3, -34.9, -35.4, -40.0, -41.5, -30.8, -37.4,
           -42.1, -43.1, -31.3, -36.4, -14.4, -14.6, -32.0, -37.9, -37.7, -37.1,
           -40.0, -37.4]

t5w5_day = [0.2, 5.4, 8.7, 11.2, 14.5, 17.5, 19.1, 22.9, 25.4, 27.4,
            29.1, 32.0, 34.9, 37.0, 39.5, 42.9, 45.3, 48.7, 52.9, 56.2,
            57.4, 58.7, 62.0, 65.3, 66.6, 69.5, 72.0, 75.3, 78.6, 82.0,
            87.0, 92.8, 97.8, 101.1, 106.9, 115.3, 119.9, 124.0, 131.8, 135.9,
            142.6, 145.9, 150.1, 156.7, 167.6, 181.7, 189.2, 192.6, 195.0, 198.4,
            204.2, 211.7, 214.2, 218.4, 221.3, 226.7, 230.4, 231.7, 235.9, 239.2,
            243.3, 245.8, 250.9, 252.9, 254.0, 257.1, 258.6, 264.9, 272.6, 278.8,
            282.7, 288.1, 290.5, 292.8, 295.9, 298.6, 303.7, 308.4, 311.5, 313.8,
            317.3, 321.6, 327.0, 330.9, 334.8, 337.9, 341.0, 343.3, 345.6, 348.8,
            352.7, 358.1, 364.7]
t5w5_cm = [18.5, 17.9, 19.5, 18.7, 18.5, 17.9, 19.5, 20.5, 23.1, 22.8,
           20.7, 22.1, 23.8, 21.5, 21.0, 22.1, 21.0, 22.1, 21.5, 21.3,
           19.0, 20.0, 19.0, 18.5, 19.3, 17.9, 18.1, 17.2, 16.6, 16.9,
           16.4, 16.9, 17.6, 16.6, 16.6, 16.7, 17.9, 16.7, 16.4, 16.9,
           16.4, 17.4, 16.9, 16.9, 17.1, 16.4, 16.4, 17.2, 17.4, 16.9,
           17.4, 16.4, 17.2, 16.4, 15.2, 14.9, 15.2, 14.4, 13.6, 14.9,
           15.4, 14.4, 13.8, 12.3, 13.8, 13.3, 14.9, 14.1, 14.6, 14.9,
           15.4, 15.2, 17.2, 16.4, 15.9, 17.9, 15.9, 15.7, 17.2, 16.9,
           17.6, 16.9, 17.1, 16.1, 17.9, 16.4, 15.9, 16.4, 17.6, 18.5,
           17.2, 17.6, 18.3]

t7w2_day = [277.7, 279.6, 280.8, 282.7, 285.8, 288.1, 290.1, 291.6, 293.7, 295.9,
            298.6, 300.6, 303.7, 308.8, 311.5, 313.8, 316.1, 317.7, 320.4, 323.7,
            326.2, 329.3, 332.4, 334.8, 341.8, 343.7, 345.3, 347.2, 348.8, 349.9,
            351.1, 352.7, 355.0, 356.5, 357.7, 359.6, 361.2, 363.1, 364.7]
t7w2_cm = [-4.1, -2.6, -3.6, -3.1, -3.6, -4.9, -6.4, -1.0, 3.1, -2.1,
           0.5, -1.0, -2.6, -4.9, -3.1, -2.3, -2.6, -0.5, -3.1, -0.8,
           -2.3, -2.6, -3.1, -1.2, -1.8, -3.1, -0.5, -1.5, 11.8, 10.3,
           5.1, -5.6, -8.7, -2.6, -7.2, -9.2, -5.6, -9.2, -10.8]

t8w4_day = [278.8, 281.2, 283.5, 285.8, 290.1, 293.6, 295.9, 298.6, 303.7, 308.8,
            313.8, 317.3, 321.6, 327.0, 332.4, 335.5, 341.0, 344.9, 347.2, 348.8,
            350.3, 352.7, 358.1, 364.7]
t8w4_cm = [0.0, 1.0, 2.6, 2.9, 2.3, 2.9, 2.1, 3.3, 2.1, 2.1,
           2.9, 3.3, 2.6, 2.9, 2.3, 3.3, 2.4, 2.9, 3.1, 4.1,
           3.6, 2.9, 3.1, 3.4]

t9w1_day = [283.7, 285.0, 286.2, 287.0, 288.1, 290.1, 291.6, 293.7, 295.9, 298.6,
            300.2, 303.7, 308.8, 311.5, 313.8, 316.1, 317.7, 320.4, 323.7, 325.0,
            329.3, 332.4, 334.8, 337.1, 341.8, 342.9, 344.5, 347.2, 348.8, 349.7,
            350.7, 352.3, 353.8, 355.4, 356.5, 357.7, 359.6, 360.8, 362.7, 364.7]
t9w1_cm = [6.2, 5.1, 5.6, 3.6, 4.6, 3.3, 11.3, 14.9, 8.7, 12.3,
           10.3, 8.2, 5.1, 6.2, 7.7, 8.2, 10.5, 7.4, 10.3, 8.5,
           7.7, 7.2, 9.4, 8.5, 8.7, 7.7, 10.3, 8.7, 25.6, 24.1,
           14.4, 5.6, 4.1, 0.0, 7.7, 2.1, 0.0, 4.6, -0.5, -2.1]

# Event markers (days): large jokulhlaup, small jokulhlaup, severe rainfall
event_days = [32.1, 39.1, 290.8, 296.2, 347.3, 352.4]

# Axis ticks
date_tick_days = list(range(0, 365, 14))
precip_ticks = [0, 20, 40, 60, 80]
temp_ticks = [-20, -10, 0, 10, 20]
level_ticks = [-60, -40, -20, 0, 20, 40, 60]


def dates(days):
    return START + pd.to_timedelta(np.asarray(days, dtype=float), unit="D")


def iso(day):
    return dates([day])[0].isoformat()


# ---------------------------------------------------------------------------
# Figure geometry helpers (pixel -> paper)
# ---------------------------------------------------------------------------
W, H = 1767, 1162
ML, MR = 90, 110
PW = W - ML - MR


def fx(px):
    return (px - ML) / PW


def fy(py):
    return 1 - py / H


SERIF = "Liberation Serif, Times New Roman, serif"
DAY_MS = 86400000

RED = "#d40000"
BLUE = "#3b85c8"
PURPLE = "#7030a0"
LGREEN = "#92d050"
DGREEN = "#4f6228"
GREEN = "#00b050"
NAVY = "#0c2a66"
ORANGE = "#f68a3c"
DRED = "#c00000"
SEBLUE = "#4a7fd0"

DASH = "7px,4px"
DASHDOT = "11px,6px,3px,6px"

middle_series = [
    ("T2W2", t2w2_day, t2w2_cm, RED, "solid"),
    ("T2W3", t2w3_day, t2w3_cm, BLUE, "solid"),
    ("T2W4", t2w4_day, t2w4_cm, PURPLE, "solid"),
    ("T2W5", t2w5_day, t2w5_cm, LGREEN, DASH),
    ("T2W6", t2w6_day, t2w6_cm, DGREEN, DASH),
    ("T3W3", t3w3_day, t3w3_cm, "black", "solid"),
    ("T3W4", t3w4_day, t3w4_cm, GREEN, DASHDOT),
]
bottom_series = [
    ("T2W6", t2w6_day, t2w6_cm, NAVY, "solid"),
    ("T5W1", t5w1_day, t5w1_cm, PURPLE, "solid"),
    ("T5W4", t5w4_day, t5w4_cm, SEBLUE, "solid"),
    ("T5W5", t5w5_day, t5w5_cm, DGREEN, DASH),
    ("T7W2", t7w2_day, t7w2_cm, ORANGE, "solid"),
    ("T8W4", t8w4_day, t8w4_cm, LGREEN, DASH),
    ("T9W1", t9w1_day, t9w1_cm, DRED, "solid"),
]

fig = go.Figure()

# --- top panel: precipitation bars and temperature line ---
fig.add_trace(go.Bar(x=dates(hofn_day), y=hofn_mm, name="P. Hofn (mm)",
                     marker=dict(color="#1f3c7c", line=dict(width=0)),
                     width=0.55 * DAY_MS, xaxis="x", yaxis="y", showlegend=False))
fig.add_trace(go.Bar(x=dates(hvoll_day), y=hvoll_mm, name="P Hvoll (mm)",
                     marker=dict(color=DRED, line=dict(width=0)),
                     width=0.55 * DAY_MS, xaxis="x", yaxis="y", showlegend=False))
fig.add_trace(go.Scatter(x=dates(temp_day), y=temp_c, mode="lines", name="Temperature",
                         line=dict(color="#e00000", width=1.5),
                         xaxis="x", yaxis="y4", showlegend=False))

# --- water table panels ---
for name, d, v, col, dash in middle_series:
    fig.add_trace(go.Scatter(x=dates(d), y=v, mode="lines", name=name,
                             line=dict(color=col, width=2.3, dash=dash),
                             xaxis="x2", yaxis="y2", showlegend=False))
for name, d, v, col, dash in bottom_series:
    fig.add_trace(go.Scatter(x=dates(d), y=v, mode="lines", name=name,
                             line=dict(color=col, width=2.3, dash=dash),
                             xaxis="x3", yaxis="y3", showlegend=False))

frame = dict(showline=True, linecolor="black", linewidth=2, mirror=True,
             showgrid=False, zeroline=False, automargin=False)
x_range = [iso(0), iso(365)]
ytick_font = dict(family=SERIF, size=20, color="black")

fig.update_layout(
    width=W, height=H,
    margin=dict(l=ML, r=MR, t=0, b=0),
    paper_bgcolor="white", plot_bgcolor="white",
    font=dict(family=SERIF, color="black"),
    barmode="overlay",
    xaxis=dict(domain=[0, 1], anchor="y", side="top", type="date", range=x_range,
               tickvals=dates(date_tick_days),
               ticktext=[f"{t.day}-{t.strftime('%b')}" for t in dates(date_tick_days)],
               tickangle=-45, ticks="outside", ticklen=7, tickcolor="black",
               tickfont=dict(family=SERIF, size=20, color="black"), **frame),
    yaxis=dict(domain=[fy(331), fy(130)], anchor="x", range=[80, 0],
               tickvals=precip_ticks, ticktext=[str(t) for t in precip_ticks],
               ticks="inside", ticklen=6, tickcolor="black", ticklabelstandoff=12,
               tickfont=ytick_font, **frame),
    yaxis4=dict(overlaying="y", anchor="x", side="right", range=[-20, 20],
                tickvals=temp_ticks, ticktext=[str(t) for t in temp_ticks],
                ticks="inside", ticklen=6, tickcolor="black", ticklabelstandoff=18,
                tickfont=ytick_font, showline=False, showgrid=False, zeroline=False,
                automargin=False),
    xaxis2=dict(domain=[0, 1], anchor="y2", type="date", range=x_range, matches="x",
                showticklabels=False, ticks="", **frame),
    yaxis2=dict(domain=[fy(740), fy(352)], anchor="x2", range=[-60, 60],
                tickvals=level_ticks, ticktext=[str(t) for t in level_ticks],
                ticks="inside", ticklen=6, tickcolor="black", ticklabelstandoff=12,
                tickfont=ytick_font, **frame),
    xaxis3=dict(domain=[0, 1], anchor="y3", type="date", range=x_range, matches="x",
                showticklabels=False, ticks="", **frame),
    yaxis3=dict(domain=[fy(1156), fy(765)], anchor="x3", range=[-60, 60],
                tickvals=level_ticks, ticktext=[str(t) for t in level_ticks],
                ticks="inside", ticklen=6, tickcolor="black", ticklabelstandoff=12,
                tickfont=ytick_font, **frame),
)

shapes = []
# reference lines: 40 mm / 0 degC and 0 cm
shapes.append(dict(type="line", xref="x domain", x0=0, x1=1, yref="y", y0=40, y1=40,
                   line=dict(color="black", width=1.6), layer="below"))
for ya in ("y2", "y3"):
    shapes.append(dict(type="line", xref=ya.replace("y", "x") + " domain", x0=0, x1=1,
                       yref=ya, y0=0, y1=0, line=dict(color="black", width=1.6), layer="below"))
# event markers
for d in event_days:
    shapes.append(dict(type="line", xref="x2", x0=iso(d), x1=iso(d), yref="y2 domain",
                       y0=0, y1=1, line=dict(color="#222222", width=1.2), layer="below"))
    shapes.append(dict(type="line", xref="x3", x0=iso(d), x1=iso(d), yref="y3 domain",
                       y0=0, y1=1, line=dict(color="black", width=1.8), layer="below"))

# year strip above the date labels
YL = fy(20)
for a, b in [(84, 300), (374, 1116), (1223, 1658)]:
    shapes.append(dict(type="line", xref="paper", yref="paper", x0=fx(a), x1=fx(b),
                       y0=YL, y1=YL, line=dict(color="#333333", width=1.5)))
shapes.append(dict(type="line", xref="paper", yref="paper", x0=fx(621), x1=fx(621),
                   y0=fy(6), y1=fy(36), line=dict(color="#333333", width=1.5)))

centered = dict(xanchor="center", yanchor="middle", showarrow=False)
annotations = [
    dict(text="2015", xref="paper", yref="paper", x=fx(334), y=YL,
         font=dict(size=26), **centered),
    dict(text="2016", xref="paper", yref="paper", x=fx(1170), y=YL,
         font=dict(size=26), **centered),
]

# top legend (colour swatches)
for (x0, x1, tx, label, col) in [(112, 164, 170, "P. Hofn (mm)", "#1f3c7c"),
                                 (319, 369, 375, "P Hvoll (mm)", DRED)]:
    shapes.append(dict(type="rect", xref="paper", yref="paper", x0=fx(x0), x1=fx(x1),
                       y0=fy(311), y1=fy(302), fillcolor=col, line=dict(width=0)))
    annotations.append(dict(text=label, xref="paper", yref="paper", x=fx(tx), y=fy(306.5),
                            xanchor="left", yanchor="middle", showarrow=False,
                            font=dict(size=21)))

# panel legends
for series, ya, yv, start, step in [(middle_series, "y2", -54.9, 115, 161),
                                    (bottom_series, "y3", -52.7, 121, 157.8)]:
    for i, (name, _, _, col, dash) in enumerate(series):
        x0 = start + step * i
        shapes.append(dict(type="line", xref="paper", yref=ya, x0=fx(x0), x1=fx(x0 + 68),
                           y0=yv, y1=yv, line=dict(color=col, width=2.5, dash=dash)))
        annotations.append(dict(text=name, xref="paper", yref=ya, x=fx(x0 + 75), y=yv,
                                xanchor="left", yanchor="middle", showarrow=False,
                                font=dict(size=21)))

# panel titles and event labels
annotations += [
    dict(text="South-west Site", xref="x2", yref="y2", x=iso(166.8), y=48.5,
         font=dict(size=32), **centered),
    dict(text="South-east Site", xref="x3", yref="y3", x=iso(167.1), y=51.5,
         font=dict(size=32), **centered),
    dict(text="Large Jökulhlaup", xref="x2", yref="y2", x=iso(62.1), y=52.2,
         font=dict(size=21), **centered),
    dict(text="Small Jökulhlaup", xref="x2", yref="y2", x=iso(266.8), y=41.0,
         font=dict(size=21), **centered),
    dict(text="Dry Period", xref="x2", yref="y2", x=iso(251.2), y=15.1,
         font=dict(size=21), **centered),
    dict(text="Severe Rainfall Event", xref="x2", yref="y2", x=iso(319.7), y=53.4,
         font=dict(size=21), **centered),
]
arrow_style = dict(showarrow=True, arrowhead=2, arrowsize=1.3, arrowwidth=1.4,
                   arrowcolor="black", text="")
annotations += [
    dict(xref="x2", yref="y2", x=iso(40.9), y=43.2, ax=92, ay=-14, **arrow_style),
    dict(xref="x2", yref="y2", x=iso(288.4), y=25.9, ax=-85, ay=-35, **arrow_style),
    dict(xref="x2", yref="y2", x=iso(345.3), y=39.2, ax=-100, ay=-29, **arrow_style),
    dict(xref="x2", yref="y2", x=iso(288.5), y=10.2, axref="x2", ayref="y2",
         ax=iso(214.6), ay=10.2, arrowside="end+start", **arrow_style),
]

# axis titles
annotations += [
    dict(text="Precipitation (mm)", xref="paper", yref="paper", x=fx(22), y=fy(231),
         textangle=-90, font=dict(size=24), **centered),
    dict(text="Temperature (°C)", xref="paper", yref="paper", x=fx(1741), y=fy(233),
         textangle=-90, font=dict(size=24), **centered),
    dict(text="Water table / Level (cm)", xref="paper", yref="paper", x=fx(22), y=fy(546),
         textangle=-90, font=dict(size=24), **centered),
    dict(text="Water table / Level (cm)", xref="paper", yref="paper", x=fx(22), y=fy(960),
         textangle=-90, font=dict(size=24), **centered),
]

fig.update_layout(shapes=shapes, annotations=annotations)
fig.write_html("out.html")
